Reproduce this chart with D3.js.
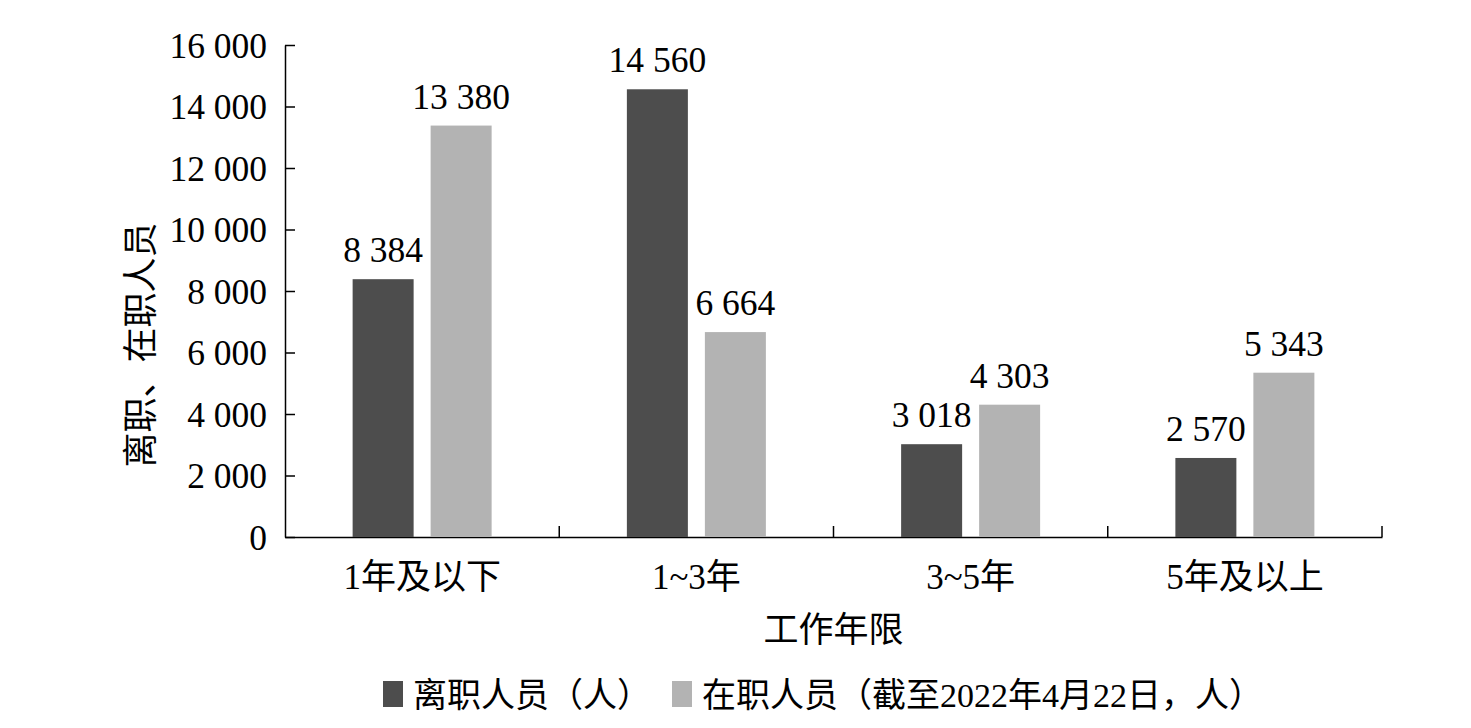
<!DOCTYPE html>
<html><head><meta charset="utf-8">
<script src="https://cdn.jsdelivr.net/npm/d3@7"></script>
<style>
body{margin:0;background:#fff;}
text{font-family:"Liberation Serif","Times New Roman","Noto Sans CJK SC",serif;fill:#000;}
</style></head>
<body><svg id="c" width="1471" height="728"></svg>
<script>
const categories = ["1年及以下","1~3年","3~5年","5年及以上"];
const seriesNames = ["离职人员（人）","在职人员（截至2022年4月22日，人）"];
const leaving = [8384,14560,3018,2570];
const staying = [13380,6664,4303,5343];
const yTicks = [0,2000,4000,6000,8000,10000,12000,14000,16000];
const colors = ["#4d4d4d","#b3b3b3"];

const svg = d3.select("#c");
const m = {left:285, right:1382, top:45, bottom:537};
const x = d3.scaleBand().domain(categories).range([m.left,m.right]).paddingInner(0).paddingOuter(0);
const y = d3.scaleLinear().domain([0,16000]).range([m.bottom,m.top]);
const fmt = v => d3.format(",")(v).replace(/,/g," ");
const bw = 61, gap = 17;

// y axis
const ya = svg.append("g").attr("transform",`translate(${m.left},0)`)
  .call(d3.axisLeft(y).tickValues(yTicks).tickSizeInner(-10).tickSizeOuter(0).tickPadding(18).tickFormat(fmt));
ya.selectAll("text").style("font-size","35.5px").attr("dy","0.35em");
ya.selectAll("line,path").attr("stroke","#000").attr("stroke-width",1.5);

// x axis
const xa = svg.append("g").attr("transform",`translate(0,${m.bottom})`)
  .call(d3.axisBottom(x).tickSize(0).tickPadding(27));
xa.selectAll("text").style("font-size","35px").attr("dy","0.71em");
xa.select("path").attr("stroke","#000").attr("stroke-width",1.5);
// boundary ticks
const bounds = categories.map(c => x(c)+x.bandwidth());
svg.append("g").selectAll("line").data(bounds).join("line")
  .attr("x1",d=>d).attr("x2",d=>d).attr("y1",m.bottom).attr("y2",m.bottom-11)
  .attr("stroke","#000").attr("stroke-width",1.5);

const series = [leaving, staying];
series.forEach((vals,si)=>{
  const g = svg.append("g");
  const xpos = c => x(c)+x.bandwidth()/2 + (si===0 ? -(gap/2+bw) : gap/2);
  g.selectAll("rect").data(categories).join("rect")
    .attr("x",c=>xpos(c)).attr("width",bw)
    .attr("y",(c,i)=>y(vals[i])).attr("height",(c,i)=>y(0)-y(vals[i]))
    .attr("fill",colors[si]);
  g.selectAll("text").data(categories).join("text")
    .attr("x",c=>xpos(c)+bw/2).attr("y",(c,i)=>y(vals[i])-17)
    .attr("text-anchor","middle").style("font-size","35.5px")
    .text((c,i)=>fmt(vals[i]));
});

// axis titles
svg.append("text").attr("x",(m.left+m.right)/2).attr("y",642).attr("text-anchor","middle")
  .style("font-size","35px").text("工作年限");
svg.append("text").attr("transform",`translate(153,${(m.top+m.bottom)/2+54}) rotate(-90)`)
  .attr("text-anchor","middle").style("font-size","35px").text("离职、在职人员");

// legend
const leg = svg.append("g");
const lx = [383, 672];
seriesNames.forEach((n,i)=>{
  leg.append("rect").attr("x",lx[i]).attr("y",681).attr("width",20).attr("height",26).attr("fill",colors[i]);
  leg.append("text").attr("x",lx[i]+30).attr("y",707).style("font-size","34px").text(n);
});
</script></body></html>
